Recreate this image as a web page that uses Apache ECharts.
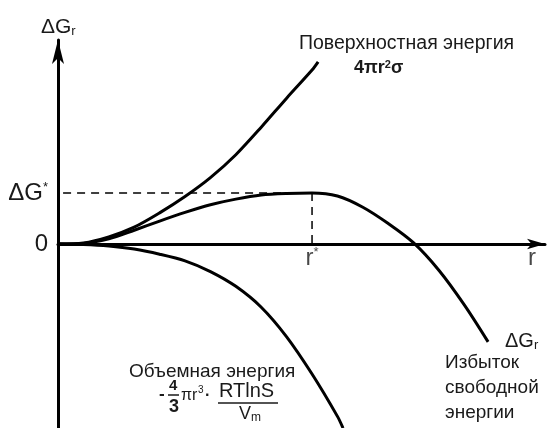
<!DOCTYPE html>
<html>
<head>
<meta charset="utf-8">
<script src="https://cdn.jsdelivr.net/npm/echarts@6/dist/echarts.min.js"></script>
<style>
  html, body { margin: 0; padding: 0; background: #fff; }
  #main { width: 547px; height: 428px; }
</style>
</head>
<body>
<div id="main"></div>
<script>
// r in units of r*, energy in units of dG*
var surfaceR = [0, 0.1, 0.2, 0.3, 0.4, 0.5, 0.6, 0.7, 0.8, 0.9, 1.0, 1.024];
var surfaceG = [0, 0.02, 0.14, 0.33, 0.61, 0.93, 1.30, 1.75, 2.29, 2.86, 3.41, 3.57];

var totalR = [0, 0.1, 0.2, 0.3, 0.4, 0.5, 0.6, 0.7, 0.8, 0.9, 1.0, 1.1, 1.2, 1.3, 1.4, 1.5, 1.6, 1.693];
var totalG = [0, 0.01, 0.10, 0.27, 0.45, 0.62, 0.77, 0.88, 0.96, 0.99, 1.0, 0.94, 0.72, 0.40, 0.02, -0.52, -1.20, -1.92];

var volumeR = [0, 0.1, 0.2, 0.3, 0.4, 0.5, 0.6, 0.7, 0.8, 0.9, 1.0, 1.1, 1.122];
var volumeG = [0, -0.01, -0.04, -0.10, -0.20, -0.33, -0.54, -0.83, -1.24, -1.82, -2.55, -3.38, -3.61];

var rStar = 1.0;
var gStar = 1.0;
var xTicks = [rStar, 1.866];
var xTickLabels = ['r*', 'r'];
var yTicks = [0, gStar];
var yTickLabels = ['0', 'ΔG*'];

var font = "'Liberation Sans', Arial, sans-serif";
var ink = '#1a1a1a';

function pairs(xs, ys) {
    return xs.map(function(x, i) { return [x, ys[i]]; });
}

var myChart = echarts.init(document.getElementById('main'));

var curveStyle = { color: '#000', width: 3 };
var dashStyle = { color: '#000', width: 1.5, type: [8, 6] };

var tickLabelRich = {
    a: { fontSize: 24, fontFamily: font, color: ink },
    s: { fontSize: 13, fontFamily: font, color: ink, verticalAlign: 'top', padding: [0, 0, 10, 0] }
};

var option = {
    backgroundColor: '#fff',
    animation: false,
    grid: { left: 58, right: 2, top: 40, bottom: 0, containLabel: false, outerBoundsMode: 'none' },
    xAxis: {
        type: 'value',
        min: 0,
        max: 1.917,
        splitLine: { show: false },
        axisLine: {
            onZero: true,
            symbol: ['none', 'arrow'],
            symbolSize: [8, 18],
            lineStyle: { color: '#000', width: 3 }
        },
        axisTick: { show: false },
        axisLabel: { show: false }
    },
    yAxis: {
        type: 'value',
        min: -3.608,
        max: 4.0,
        splitLine: { show: false },
        axisLine: {
            onZero: true,
            symbol: ['none', 'arrow'],
            symbolSize: [9, 24],
            lineStyle: { color: '#000', width: 3 }
        },
        axisTick: { show: false },
        axisLabel: {
            customValues: yTicks,
            margin: 10,
            formatter: function(v) {
                var i = yTicks.indexOf(v);
                if (i < 0) return '';
                return yTickLabels[i] === 'ΔG*' ? '{a|ΔG}{s|*}' : '{a|0}';
            },
            rich: tickLabelRich
        }
    },
    series: [
        {
            name: 'surface',
            type: 'line',
            data: pairs(surfaceR, surfaceG),
            smooth: 0.3,
            showSymbol: false,
            lineStyle: curveStyle,
            z: 3
        },
        {
            name: 'total',
            type: 'line',
            data: pairs(totalR, totalG),
            smooth: 0.3,
            showSymbol: false,
            lineStyle: curveStyle,
            z: 3
        },
        {
            name: 'volume',
            type: 'line',
            data: pairs(volumeR, volumeG),
            smooth: 0.3,
            showSymbol: false,
            lineStyle: curveStyle,
            z: 3
        },
        {
            name: 'dashH',
            type: 'line',
            data: [[0.02, gStar], [rStar, gStar]],
            showSymbol: false,
            lineStyle: dashStyle,
            z: 2
        },
        {
            name: 'dashV',
            type: 'line',
            data: [[rStar, gStar], [rStar, 0]],
            showSymbol: false,
            lineStyle: dashStyle,
            z: 2
        },
        {
            name: 'xTicks',
            type: 'scatter',
            symbolSize: 0,
            data: xTicks.map(function(v, i) { return { value: [v, 0], name: xTickLabels[i] }; }),
            label: {
                show: true,
                position: 'bottom',
                distance: 2,
                formatter: function(p) {
                    return p.name === 'r*' ? '{a|r}{s|*}' : '{a|r}';
                },
                rich: tickLabelRich
            },
            silent: true
        }
    ],
    graphic: [
        {
            type: 'text', x: 41, y: 27,
            style: {
                text: '{a|ΔG}{b|r}',
                verticalAlign: 'middle',
                rich: {
                    a: { fontSize: 21, fontFamily: font, fill: ink },
                    b: { fontSize: 13, fontFamily: font, fill: ink, verticalAlign: 'bottom', padding: [9, 0, 0, 0] }
                }
            }
        },
        {
            type: 'text', x: 299, y: 44,
            style: { text: 'Поверхностная энергия', font: '19.5px ' + font, fill: ink, verticalAlign: 'middle' }
        },
        {
            type: 'text', x: 354, y: 68,
            style: {
                text: '{a|4πr}{s|2}{a|σ}',
                verticalAlign: 'middle',
                rich: {
                    a: { fontSize: 18, fontFamily: font, fontWeight: 'bold', fill: ink },
                    s: { fontSize: 11, fontFamily: font, fontWeight: 'bold', fill: ink, verticalAlign: 'top', padding: [0, 0, 7, 0] }
                }
            }
        },
        {
            type: 'text', x: 129, y: 372,
            style: { text: 'Объемная энергия', font: '19px ' + font, fill: ink, verticalAlign: 'middle' }
        },
        { type: 'text', x: 159, y: 394, style: { text: '-', font: 'bold 17px ' + font, fill: ink, verticalAlign: 'middle' } },
        { type: 'text', x: 169, y: 386, style: { text: '4', font: 'bold 15px ' + font, fill: ink, verticalAlign: 'middle' } },
        { type: 'line', shape: { x1: 168, y1: 395, x2: 179, y2: 395 }, style: { stroke: ink, lineWidth: 1.5 } },
        { type: 'text', x: 169, y: 407, style: { text: '3', font: 'bold 18px ' + font, fill: ink, verticalAlign: 'middle' } },
        { type: 'text', x: 181, y: 396, style: { text: 'πr', font: '16px ' + font, fill: ink, verticalAlign: 'middle' } },
        { type: 'text', x: 198, y: 390, style: { text: '3', font: '10px ' + font, fill: ink, verticalAlign: 'middle' } },
        { type: 'text', x: 205, y: 396, style: { text: '·', font: 'bold 16px ' + font, fill: ink, verticalAlign: 'middle' } },
        { type: 'text', x: 219, y: 391, style: { text: 'RTlnS', font: '20px ' + font, fill: ink, verticalAlign: 'middle' } },
        { type: 'line', shape: { x1: 218, y1: 403, x2: 278, y2: 403 }, style: { stroke: ink, lineWidth: 1.5 } },
        { type: 'text', x: 239, y: 414, style: { text: 'V', font: '18px ' + font, fill: ink, verticalAlign: 'middle' } },
        { type: 'text', x: 251, y: 418, style: { text: 'm', font: '12px ' + font, fill: ink, verticalAlign: 'middle' } },
        {
            type: 'text', x: 505, y: 341,
            style: {
                text: '{a|ΔG}{b|r}',
                verticalAlign: 'middle',
                rich: {
                    a: { fontSize: 20, fontFamily: font, fill: ink },
                    b: { fontSize: 13, fontFamily: font, fill: ink, verticalAlign: 'bottom', padding: [9, 0, 0, 0] }
                }
            }
        },
        {
            type: 'text', x: 445, y: 350,
            style: { text: 'Избыток\nсвободной\nэнергии', font: '19px ' + font, lineHeight: 25, fill: ink }
        }
    ]
};

myChart.setOption(option);
</script>
</body>
</html>
